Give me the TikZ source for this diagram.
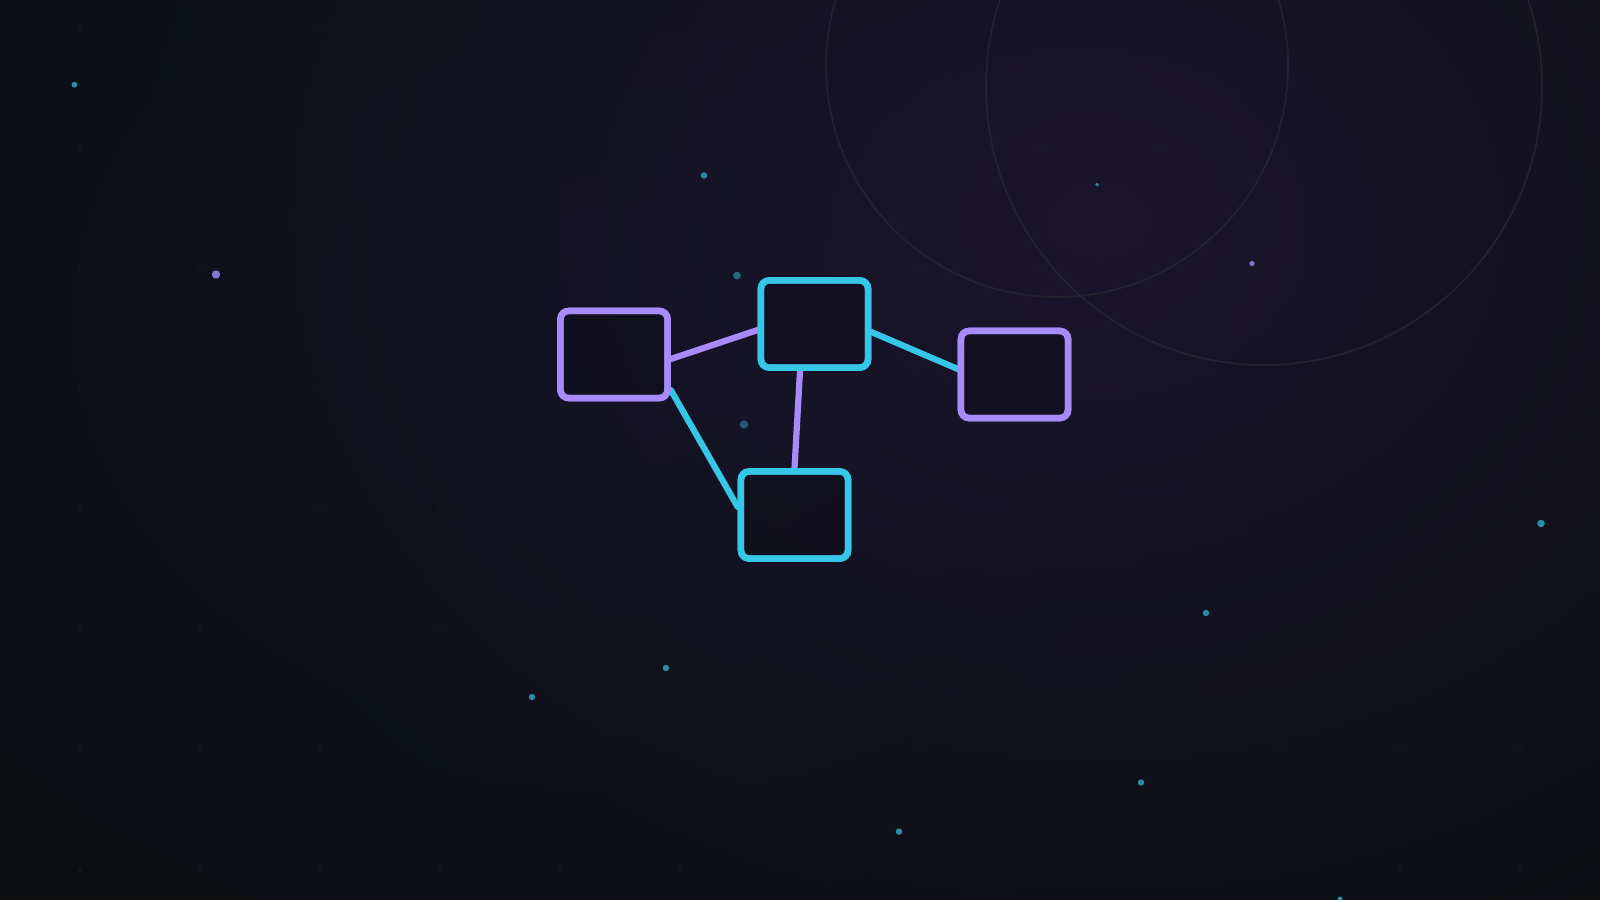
\documentclass[tikz,border=0pt]{standalone}
\usetikzlibrary{calc,fadings}
\definecolor{bgc}{HTML}{0C0F12}
\definecolor{glowc}{HTML}{1B152D}
\definecolor{bluec}{HTML}{11152A}
\definecolor{vio}{HTML}{A78BFA}
\definecolor{cya}{HTML}{36C6E8}
\definecolor{dotteal}{HTML}{2A8DA6}
\definecolor{dotvio}{HTML}{8474D0}
\definecolor{gridc}{HTML}{181A22}
\definecolor{ringc}{HTML}{25222F}
\pgfdeclareradialshading{fadesh}{\pgfpointorigin}{color(0bp)=(white); color(10bp)=(white!60!black); color(25bp)=(black); color(50bp)=(black)}
\pgfdeclarefading{softglow}{\pgfuseshading{fadesh}}
\tikzset{
  panel/.style={draw, line width=0.065cm, rounded corners=0.08cm, minimum width=1.07cm, minimum height=0.87cm, inner sep=0pt, fill=black, fill opacity=0.15, draw opacity=1},
  vbox/.style={panel, draw=vio},
  cbox/.style={panel, draw=cya},
  link/.style={line width=0.062cm, line cap=round},
  ring/.style={draw=ringc, line width=0.5pt},
}
\begin{document}
\begin{tikzpicture}[x=0.01cm,y=-0.01cm]
\useasboundingbox (0,0) rectangle (1600,900);
\fill[bgc] (0,0) rectangle (1600,900);
\begin{scope}
\clip (0,0) rectangle (1600,900);
\fill[bluec, path fading=softglow, opacity=0.5] (620,320) ellipse (900 and 700);
\fill[glowc, path fading=softglow] (1100,220) ellipse (1000 and 800);
% grid
\foreach \i in {0,...,12} {
  \foreach \j in {0,...,7} {
    \fill[gridc] (80+120*\i, 30+120*\j) circle (1.6);
  }
}
% rings
\draw[ring] (1057,66) circle (231);
\draw[ring] (1264,87) circle (278);
% dots
\fill[dotteal] (74.5,84.7) circle (3);
\fill[dotvio] (216,274.5) circle (4.2);
\fill[dotteal] (704,175.5) circle (3.2);
\fill[dotteal, opacity=0.7] (737,275.5) circle (3.8);
\fill[dotteal, opacity=0.6] (744,424.5) circle (4.2);
\fill[dotteal] (1097,184.7) circle (1.8);
\fill[dotvio] (1252,263.5) circle (2.6);
\fill[dotteal] (1541,523.5) circle (3.8);
\fill[dotteal] (1206,613) circle (3.2);
\fill[dotteal] (666,668) circle (3.2);
\fill[dotteal] (532,697) circle (3.2);
\fill[dotteal] (1141,782.5) circle (3.2);
\fill[dotteal] (899,831.6) circle (3.2);
\fill[dotteal] (1340,899) circle (2.5);
\end{scope}
% boxes
\node[vbox] (A) at (614,354.5) {};
\node[cbox] (B) at (814.5,324) {};
\node[vbox] (C) at (1014.5,374.5) {};
\node[cbox] (D) at (794.5,515) {};
% links
\draw[link, vio] ($(A.east)+(0,4.5)$) -- ($(B.west)+(0,6)$);
\draw[link, cya] ($(B.east)+(0,8)$) -- ($(C.west)+(0,-5.5)$);
\draw[link, vio] ($(B.south)+(-14.5,0)$) -- (D.north);
\draw[link, cya] ($(A.east)+(0,35.5)$) -- ($(D.west)+(0,-8)$);
% redraw borders on top
\node[vbox, fill opacity=0] (A2) at (A) {};
\node[cbox, fill opacity=0] (B2) at (B) {};
\node[vbox, fill opacity=0] (C2) at (C) {};
\node[cbox, fill opacity=0] (D2) at (D) {};
\end{tikzpicture}
\end{document}
